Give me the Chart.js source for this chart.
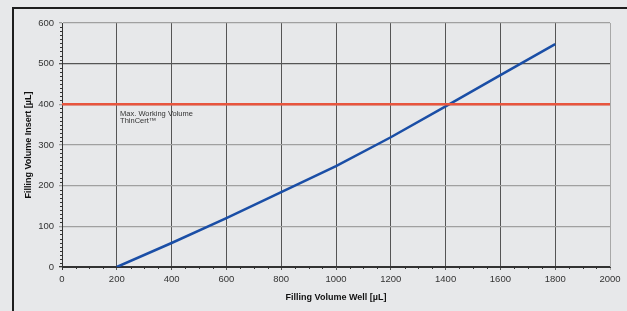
<!DOCTYPE html>
<html>
<head>
<meta charset="utf-8">
<script src="https://cdn.jsdelivr.net/npm/chart.js@4/dist/chart.umd.min.js"></script>
<style>
  html, body { margin: 0; padding: 0; background: #e7e8ea; }
  #wrap { width: 627px; height: 311px; position: relative; }
</style>
</head>
<body>
<div id="wrap"><canvas id="chart" width="627" height="311"></canvas></div>
<script>
// well volume vs insert volume
const wellVolume = [200, 400, 600, 800, 1000, 1200, 1400, 1600, 1800];
const insertVolume = [0, 59, 120, 184, 248, 319, 395, 472, 548];
const maxWorkingX = [0, 2000];
const maxWorkingY = [400, 400];
const noteLines = ["Max. Working Volume", "ThinCert\u2122"];

const FONT = "'Liberation Sans', Arial, sans-serif";

function pairs(xs, ys) {
  return xs.map((x, i) => ({ x, y: ys[i] }));
}

// frame, minor ticks and the note text
const extras = {
  id: "extras",
  beforeDraw(chart) {
    const ctx = chart.ctx;
    ctx.save();
    ctx.strokeStyle = "#1e1e1e";
    ctx.lineWidth = 2;
    ctx.beginPath();
    ctx.moveTo(13, 311);
    ctx.lineTo(13, 8);
    ctx.lineTo(627, 8);
    ctx.stroke();
    ctx.restore();
  },
  afterDraw(chart) {
    const ctx = chart.ctx;
    const xs = chart.scales.x, ys = chart.scales.y;
    const area = chart.chartArea;
    ctx.save();
    ctx.strokeStyle = "#333";
    ctx.lineWidth = 1;
    ctx.beginPath();
    for (let v = 0; v <= 600; v += 10) {
      if (v % 100 === 0) continue;
      const py = Math.round(ys.getPixelForValue(v)) + 0.5;
      ctx.moveTo(area.left - 2, py);
      ctx.lineTo(area.left, py);
    }
    for (let v = 0; v <= 2000; v += 50) {
      if (v % 200 === 0) continue;
      const px = Math.round(xs.getPixelForValue(v)) + 0.5;
      ctx.moveTo(px, area.bottom);
      ctx.lineTo(px, area.bottom + 2);
    }
    ctx.stroke();

    ctx.fillStyle = "#333";
    ctx.font = "7.5px " + FONT;
    ctx.textBaseline = "top";
    const tx = xs.getPixelForValue(212);
    const ty = ys.getPixelForValue(385);
    noteLines.forEach((t, i) => ctx.fillText(t, tx, ty + i * 7));
    ctx.restore();
  }
};

new Chart(document.getElementById("chart"), {
  type: "line",
  data: {
    datasets: [
      {
        data: pairs(maxWorkingX, maxWorkingY),
        borderColor: "#e8553e",
        borderWidth: 2.5,
        pointRadius: 0,
        fill: false
      },
      {
        data: pairs(wellVolume, insertVolume),
        borderColor: "#1a4ea6",
        borderWidth: 2.5,
        pointRadius: 0,
        fill: false
      }
    ]
  },
  plugins: [extras],
  options: {
    responsive: false,
    animation: false,
    layout: { padding: { top: 23, right: 17, left: 0, bottom: 0 } },
    plugins: { legend: { display: false }, tooltip: { enabled: false } },
    scales: {
      x: {
        type: "linear",
        min: 0,
        max: 2000,
        afterFit(s) { s.height = 44; },
        ticks: {
          stepSize: 200,
          color: "#333",
          padding: 4,
          font: { family: FONT, size: 9.5 },
          callback: (v) => String(v)
        },
        grid: {
          color: (c) => (c.tick && c.tick.value === 2000 ? "#a8a8a8" : c.tick && c.tick.value === 0 ? "#333" : "#555"),
          lineWidth: 1,
          tickLength: 3
        },
        border: { display: true, color: "#333", width: 1 },
        title: {
          display: true,
          text: "Filling Volume Well [\u00b5L]",
          color: "#111",
          font: { family: FONT, size: 9, weight: "bold" },
          padding: { top: 0, bottom: 8 }
        }
      },
      y: {
        min: 0,
        max: 600,
        afterFit(s) { s.width = 62; },
        ticks: {
          stepSize: 100,
          color: "#333",
          padding: 5,
          font: { family: FONT, size: 9.5 },
          callback: (v) => String(v)
        },
        grid: {
          color: (c) => {
            const v = c.tick && c.tick.value;
            if (v === 500) return "#555";
            if (v === 0) return "#333";
            return "#a0a0a0";
          },
          lineWidth: 1.3,
          tickLength: 3
        },
        border: { display: true, color: "#333", width: 1 },
        title: {
          display: true,
          text: "Filling Volume Insert [\u00b5L]",
          color: "#111",
          font: { family: FONT, size: 9, weight: "bold" },
          padding: { top: 23, bottom: 0 }
        }
      }
    }
  }
});
</script>
</body>
</html>
